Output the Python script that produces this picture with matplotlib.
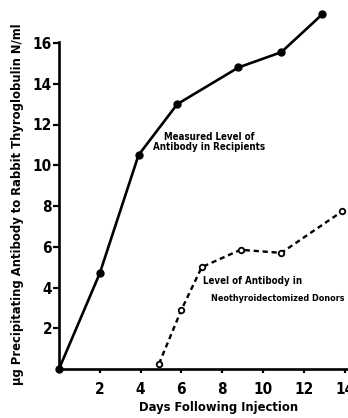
import matplotlib
matplotlib.use("Agg")
import matplotlib.pyplot as plt

# Data
recip_days = [0, 2, 3.9, 5.8, 8.8, 10.9, 12.9]
recip_level = [0, 4.7, 10.5, 13.0, 14.8, 15.55, 17.4]
donor_days = [4.9, 6.0, 7.0, 8.9, 10.9, 13.9]
donor_level = [0.25, 2.9, 5.0, 5.85, 5.7, 7.75]
xticks = [2, 4, 6, 8, 10, 12, 14]
yticks = [2, 4, 6, 8, 10, 12, 14, 16]

plt.rcParams["font.family"] = ["DejaVu Sans"]
plt.rcParams["font.stretch"] = "condensed"
plt.rcParams["font.weight"] = "bold"

W, H = 348, 418
fig = plt.figure(figsize=(W / 100, H / 100), dpi=100)
x0, x1 = 59, 348
y0 = 369
xmax = 14.17
ymax = 18.0
ppu = (y0 - 43) / 16.0
ax = fig.add_axes([x0 / W, 1 - y0 / H, (x1 - x0) / W, (ymax * ppu) / H])
ax.set_xlim(0, xmax)
ax.set_ylim(0, ymax)

ax.plot(recip_days, recip_level, color="black", lw=1.9, marker="o", ms=5,
        mfc="black", mec="black", clip_on=False, zorder=3)
ax.plot(donor_days, donor_level, color="black", lw=1.7, ls=(0, (2.2, 1.6)),
        marker="o", ms=4.0, mfc="white", mec="black", mew=1.3,
        clip_on=False, zorder=3)

for s in ["top", "right"]:
    ax.spines[s].set_visible(False)
ax.spines["left"].set_bounds(0, 16.05)
ax.spines["left"].set_linewidth(1.9)
ax.spines["bottom"].set_linewidth(1.9)

tk = dict(fontsize=11, fontweight="bold", fontstretch="condensed")
ax.set_xticks(xticks)
ax.set_xticklabels([str(t) for t in xticks], **tk)
ax.set_yticks(yticks)
ax.set_yticklabels([str(t) for t in yticks], **tk)
ax.tick_params(axis="x", length=3, width=1.6, pad=6)
ax.tick_params(axis="y", length=4, width=1.6, pad=1)

lab = dict(fontweight="bold", fontstretch="condensed")
fig.text(18 / W, 1 - 204 / H,
         "\u03bcg Precipitating Antibody to Rabbit Thyroglobulin N/ml",
         rotation=90, ha="center", va="center", fontsize=9.3, **lab)
fig.text(219 / W, 1 - 407 / H, "Days Following Injection",
         ha="center", va="center", fontsize=9.3, **lab)

ann = dict(fontweight="bold", fontstretch="condensed")
ax.text(7.35, 11.15, "Measured Level of\nAntibody in Recipients",
        ha="center", va="center", linespacing=1.0, fontsize=7, **ann)
ax.text(7.05, 4.32, "Level of Antibody in", ha="left", va="center",
        fontsize=7, **ann)
ax.text(7.45, 3.48, "Neothyroidectomized Donors", ha="left", va="center",
        fontsize=6.5, **ann)

fig.savefig("out.png", dpi=100)
